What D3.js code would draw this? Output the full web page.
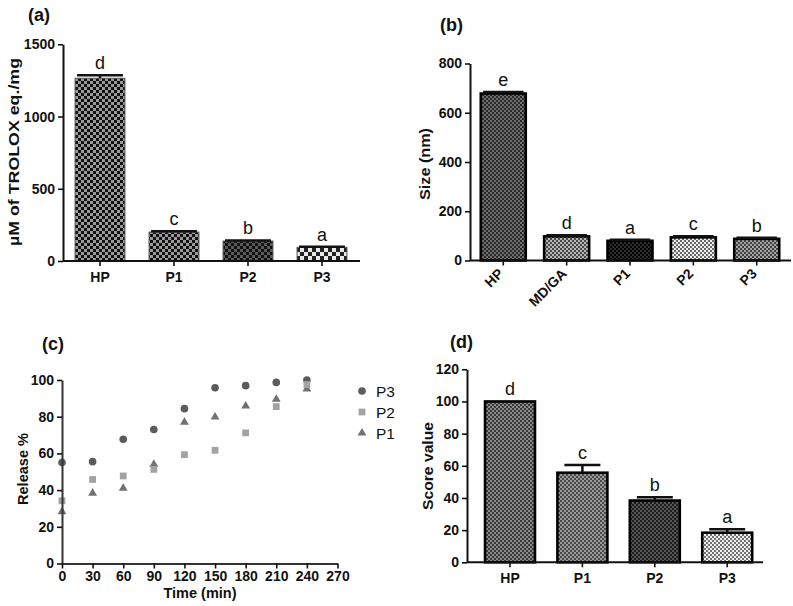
<!DOCTYPE html>
<html><head><meta charset="utf-8">
<script src="https://cdn.jsdelivr.net/npm/d3@7"></script>
<style>
body{margin:0;background:#fff}
text{font-family:"Liberation Sans",Arial,Helvetica,sans-serif}
</style>
</head><body>
<svg id="chart" width="793" height="606"></svg>
<script>
// ---------- DATA ----------
// (a) antioxidant activity
const aCategories = ["HP", "P1", "P2", "P3"];
const aValues = [1265, 200, 138, 95];
const aErrors = [20, 6, 4, 4];
const aLetters = ["d", "c", "b", "a"];
const aTicks = [0, 500, 1000, 1500];

// (b) particle size
const bCategories = ["HP", "MD/GA", "P1", "P2", "P3"];
const bValues = [678, 98, 80, 94, 88];
const bErrors = [6, 5, 4, 4, 4];
const bLetters = ["e", "d", "a", "c", "b"];
const bTicks = [0, 200, 400, 600, 800];

// (c) release profile
const cTime = [0, 30, 60, 90, 120, 150, 180, 210, 240];
const cP3 = [55, 55.5, 67.7, 73, 84.4, 95.8, 96.9, 98.7, 100];
const cP2 = [34.2, 45.8, 47.7, 51.3, 59.3, 61.7, 71.2, 85.5, 97.5];
const cP1 = [28.2, 38.3, 41, 54, 77, 79.8, 85.8, 89.5, 95.1];
const cXTicks = [0, 30, 60, 90, 120, 150, 180, 210, 240, 270];
const cYTicks = [0, 20, 40, 60, 80, 100];
const cSeriesNames = ["P3", "P2", "P1"];

// (d) sensory score
const dCategories = ["HP", "P1", "P2", "P3"];
const dValues = [100, 55.7, 38.4, 18.4];
const dErrors = [0, 4.8, 2.1, 2.1];
const dLetters = ["d", "c", "b", "a"];
const dTicks = [0, 20, 40, 60, 80, 100, 120];

// ---------- DRAW ----------
const svg = d3.select("#chart");
const defs = svg.append("defs");
const FONT = '"Liberation Sans",Arial,Helvetica,sans-serif';
const fmt = d3.format("d");

function checker(id, c1, c2, s) {
  const p = defs.append("pattern").attr("id", id)
    .attr("patternUnits", "userSpaceOnUse")
    .attr("width", 2 * s).attr("height", 2 * s);
  p.append("rect").attr("width", 2 * s).attr("height", 2 * s).attr("fill", c2).attr("shape-rendering", "crispEdges");
  p.append("rect").attr("width", s).attr("height", s).attr("fill", c1).attr("shape-rendering", "crispEdges");
  p.append("rect").attr("x", s).attr("y", s).attr("width", s).attr("height", s).attr("fill", c1).attr("shape-rendering", "crispEdges");
}
// panel (a) patterns
checker("a0", "#111", "#9a9a9a", 3);
checker("a1", "#111", "#9a9a9a", 3);
checker("a2", "#111", "#5a5a5a", 3);
checker("a3", "#222", "#e8e8e8", 4);
// panel (b) patterns
checker("b0", "#2a2a2a", "#6e6e6e", 2);
checker("b1", "#4a4a4a", "#b5b5b5", 2);
checker("b2", "#000", "#2e2e2e", 2);
checker("b3", "#6a6a6a", "#eeeeee", 2);
checker("b4", "#404040", "#a5a5a5", 2);
// panel (d) patterns
checker("d0", "#3a3a3a", "#8a8a8a", 2);
checker("d1", "#484848", "#9a9a9a", 2);
checker("d2", "#1e1e1e", "#555", 2);
checker("d3", "#707070", "#f0f0f0", 2);

function panelLabel(txt, x, y) {
  svg.append("text").attr("x", x).attr("y", y).attr("font-size", 18)
    .attr("font-weight", "bold").attr("fill", "#111").text(txt);
}
function yTitle(txt, cx, cy, len) {
  svg.append("text").attr("transform", `translate(${cx},${cy}) rotate(-90)`)
    .attr("text-anchor", "middle").attr("dominant-baseline", "central")
    .attr("font-size", 14.5).attr("font-weight", "bold").attr("fill", "#111")
    .attr("textLength", len).attr("lengthAdjust", "spacingAndGlyphs").text(txt);
}
function styleAxis(g) {
  g.attr("font-size", 14).attr("font-family", FONT);
  g.selectAll("path.domain").attr("stroke", "#111").attr("stroke-width", 2);
  g.selectAll(".tick line").attr("stroke", "#111").attr("stroke-width", 1.6);
  g.selectAll(".tick text").attr("font-size", 14).attr("font-weight", "bold")
    .attr("fill", "#111").attr("font-family", FONT);
}

function barPanel(o) {
  const g = svg.append("g");
  const x = d3.scaleBand().domain(o.cats).range(o.xr)
    .paddingInner(o.pi).paddingOuter(o.pi / 2);
  const y = d3.scaleLinear().domain([0, o.ymax]).range(o.yr);

  g.selectAll("rect.bar").data(o.vals).join("rect").attr("class", "bar")
    .attr("x", (d, i) => x(o.cats[i])).attr("width", x.bandwidth())
    .attr("y", d => y(d)).attr("height", d => y(0) - y(d))
    .attr("fill", (d, i) => `url(#${o.pats[i]})`)
    .attr("stroke", o.stroke).attr("stroke-width", o.sw);

  // error bars (upper only)
  o.errs.forEach((e, i) => {
    if (!e) return;
    const cx = x(o.cats[i]) + x.bandwidth() / 2;
    const cw = x.bandwidth() * o.capFrac;
    g.append("line").attr("x1", cx).attr("x2", cx)
      .attr("y1", y(o.vals[i])).attr("y2", y(o.vals[i] + e))
      .attr("stroke", "#111").attr("stroke-width", 2.5);
    g.append("line").attr("x1", cx - cw / 2).attr("x2", cx + cw / 2)
      .attr("y1", y(o.vals[i] + e)).attr("y2", y(o.vals[i] + e))
      .attr("stroke", "#111").attr("stroke-width", 2.5);
  });
  // significance letters
  g.selectAll("text.sig").data(o.letters).join("text").attr("class", "sig")
    .attr("x", (d, i) => x(o.cats[i]) + x.bandwidth() / 2)
    .attr("y", (d, i) => y(o.vals[i] + o.errs[i]) - 6)
    .attr("text-anchor", "middle").attr("font-size", 18).attr("fill", "#111")
    .text(d => d);

  // y axis
  const ya = g.append("g").attr("transform", `translate(${o.x0},0)`)
    .call(d3.axisLeft(y).tickValues(o.yticks).tickFormat(fmt).tickSize(5).tickPadding(3).tickSizeOuter(0));
  styleAxis(ya);
  // x axis
  const xa = g.append("g").attr("transform", `translate(0,${o.yr[0]})`)
    .call(d3.axisBottom(x).tickSize(5).tickSizeOuter(0).tickPadding(6));
  xa.select("path.domain").remove();
  styleAxis(xa);
  if (o.rotate) {
    xa.selectAll(".tick text").attr("text-anchor", "end")
      .attr("dy", null).attr("y", null)
      .attr("transform", "translate(1,14) rotate(-45)");
  }
  g.append("line").attr("x1", o.x0).attr("x2", o.xend)
    .attr("y1", o.yr[0]).attr("y2", o.yr[0])
    .attr("stroke", "#111").attr("stroke-width", 2);
  return g;
}

// ---- (a)
panelLabel("(a)", 28, 21);
barPanel({
  cats: aCategories, vals: aValues, errs: aErrors, letters: aLetters, yticks: aTicks,
  xr: [63, 359], pi: 0.326, ymax: 1500, yr: [261, 44.3], x0: 63, xend: 360,
  pats: ["a0", "a1", "a2", "a3"], stroke: "#555", sw: 1, capFrac: 0.92
});
yTitle("µM of TROLOX eq./mg", 14, 152, 188);

// ---- (b)
panelLabel("(b)", 440, 31);
barPanel({
  cats: bCategories, vals: bValues, errs: bErrors, letters: bLetters, yticks: bTicks,
  xr: [471.6, 788.4], pi: 0.29, ymax: 800, yr: [260.5, 63.5], x0: 470, xend: 791,
  pats: ["b0", "b1", "b2", "b3", "b4"], stroke: "#000", sw: 2.6, capFrac: 0.9, rotate: true
});
yTitle("Size (nm)", 425, 164, 72);

// ---- (c)
panelLabel("(c)", 42, 350);
{
  const g = svg.append("g");
  const x = d3.scaleLinear().domain([0, 270]).range([62, 337.5]);
  const y = d3.scaleLinear().domain([0, 100]).range([563.5, 380]);
  const series = [
    { name: cSeriesNames[0], vals: cP3, sym: d3.symbolCircle, size: 46, color: "#5c5c5c" },
    { name: cSeriesNames[1], vals: cP2, sym: d3.symbolSquare, size: 46, color: "#a3a3a3" },
    { name: cSeriesNames[2], vals: cP1, sym: d3.symbolTriangle, size: 34, color: "#727272" }
  ];
  [series[0], series[2], series[1]].forEach(s => {
    g.selectAll(null).data(s.vals).join("path")
      .attr("transform", (d, i) => `translate(${x(cTime[i])},${y(d)})`)
      .attr("d", d3.symbol(s.sym, s.size)).attr("fill", s.color);
  });
  const ya = g.append("g").attr("transform", "translate(62,0)")
    .call(d3.axisLeft(y).tickValues(cYTicks).tickFormat(fmt).tickSize(5).tickPadding(3).tickSizeOuter(0));
  styleAxis(ya);
  ya.selectAll("path.domain").attr("stroke", "#333");
  const xa = g.append("g").attr("transform", "translate(0,563.5)")
    .call(d3.axisBottom(x).tickValues(cXTicks).tickFormat(fmt).tickSize(5).tickPadding(3).tickSizeOuter(0));
  styleAxis(xa);
  xa.selectAll("path.domain").attr("stroke", "#333");
  g.append("text").attr("x", 200).attr("y", 597.5).attr("text-anchor", "middle")
    .attr("font-size", 14.5).attr("font-weight", "bold").attr("fill", "#111").text("Time (min)");
  // legend
  series.forEach((s, i) => {
    const ly = 391 + i * 21;
    g.append("path").attr("transform", `translate(362,${ly})`)
      .attr("d", d3.symbol(s.sym, s.size)).attr("fill", s.color);
    g.append("text").attr("x", 376).attr("y", ly).attr("dominant-baseline", "central")
      .attr("font-size", 15.5).attr("fill", "#111").text(s.name);
  });
}
yTitle("Release %", 23, 469, 72);

// ---- (d)
panelLabel("(d)", 450, 348);
barPanel({
  cats: dCategories, vals: dValues, errs: dErrors, letters: dLetters, yticks: dTicks,
  xr: [473.8, 763.4], pi: 0.31, ymax: 120, yr: [562.3, 369.3], x0: 467, xend: 763,
  pats: ["d0", "d1", "d2", "d3"], stroke: "#000", sw: 2.6, capFrac: 0.72
});
yTitle("Score value", 428, 466, 88);
</script>
</body></html>
